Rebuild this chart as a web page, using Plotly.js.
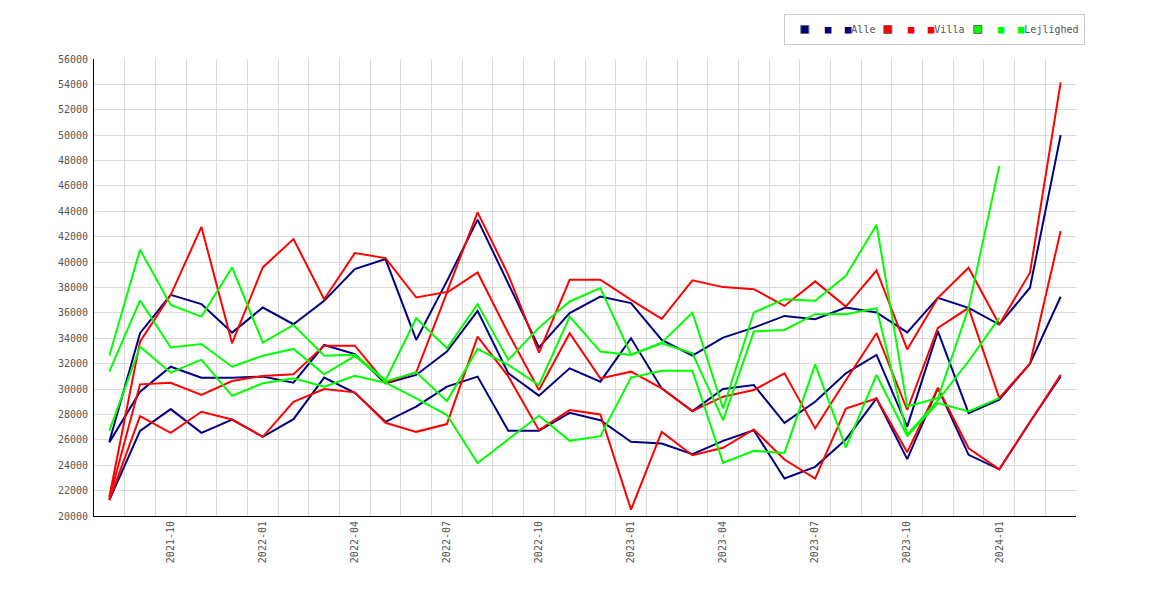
<!DOCTYPE html>
<html>
<head>
<meta charset="utf-8">
<script src="https://cdn.plot.ly/plotly-3.0.1.min.js"></script>
<style>
  html, body { margin: 0; padding: 0; background: #fff; }
  #chart { width: 1170px; height: 600px; }
</style>
</head>
<body>
<div id="chart"></div>
<script>
// Monthly price series 2021-08 .. 2024-03, three bands per property type.
const months = [
  '2021-08', '2021-09', '2021-10', '2021-11', '2021-12', '2022-01', '2022-02', '2022-03',
  '2022-04', '2022-05', '2022-06', '2022-07', '2022-08', '2022-09', '2022-10', '2022-11',
  '2022-12', '2023-01', '2023-02', '2023-03', '2023-04', '2023-05', '2023-06', '2023-07',
  '2023-08', '2023-09', '2023-10', '2023-11', '2023-12', '2024-01', '2024-02', '2024-03'
];
const tickMonths = ['2021-10', '2022-01', '2022-04', '2022-07', '2022-10',
  '2023-01', '2023-04', '2023-07', '2023-10', '2024-01'];

const alleLow  = [21250, 26710, 28420, 26550, 27600, 26240, 27630, 30900, 29710, 27420, 28610, 30190, 30980, 26710, 26710, 28130,
                  27550, 25840, 25710, 24870, 25920, 26760, 22950, 23870, 26030, 29260, 24480, 30080, 24820, 23680, 27400, 31000];
const alleMid  = [25800, 29790, 31760, 30900, 30900, 30980, 30500, 33470, 32760, 30450, 31110, 32950, 36160, 31240, 29480, 31630,
                  30580, 34000, 30050, 28260, 30000, 30320, 27340, 29000, 31240, 32690, 27040, 34550, 28110, 29160, 32000, 37270];
const alleHigh = [25850, 34400, 37420, 36690, 34450, 36420, 35110, 36950, 39450, 40240, 33870, 38500, 43350, 38300, 33270, 35980,
                  37290, 36770, 33870, 32630, 34050, 34840, 35760, 35500, 36420, 36030, 34460, 37190, 36400, 35080, 37980, 50000];

const villaLow  = [21250, 27870, 26550, 28210, 27600, 26240, 29000, 30000, 29740, 27340, 26630, 27240, 34130, 31000, 26760, 28340,
                   28000, 20500, 26630, 24790, 25370, 26820, 24450, 22950, 28470, 29260, 25030, 30080, 25340, 23680, 27400, 31130];
const villaMid  = [21350, 30370, 30500, 29530, 30630, 31030, 31160, 33420, 33420, 30500, 31320, 37600, 39180, 34400, 29920, 34400,
                   30840, 31370, 30050, 28260, 29400, 29920, 31240, 26900, 30700, 34400, 28350, 34820, 36400, 29290, 32000, 42450];
const villaHigh = [21500, 33740, 37420, 42770, 33610, 39580, 41820, 37080, 40710, 40320, 37210, 37650, 43920, 39000, 32870, 38610,
                   38610, 37030, 35530, 38560, 38030, 37870, 36550, 38480, 36500, 39340, 33120, 37190, 39560, 35080, 39160, 54160];

// Lejlighed stops at 2024-01
const lejLow  = [26710, 33340, 31290, 32320, 29470, 30450, 30840, 30190, 31050, 30500, 29260, 27950, 24180, 26030, 27900, 25920,
                 26290, 30900, 31450, 31450, 24180, 25130, 24970, 31950, 25400, 31110, 26300, 28900, 28240, 29290];
const lejMid  = [31370, 36980, 33270, 33550, 31760, 32630, 33160, 31160, 32600, 30600, 31320, 29050, 33160, 31900, 30320, 35710,
                 32950, 32690, 33600, 32820, 27550, 34530, 34660, 35900, 35900, 36370, 26400, 29100, 32190, 35610];
const lejHigh = [32630, 40980, 36630, 35710, 39580, 33660, 35050, 32630, 32700, 30700, 35580, 33210, 36690, 32300, 34840, 36900,
                 37950, 32700, 33650, 36030, 28470, 36030, 37080, 36950, 38920, 42950, 28630, 29290, 36400, 47580];

// legendWidth only squeezes the gap after the short names, as in the original
const groups = [
  { name: 'Alle', color: '#000080', series: [alleLow, alleMid, alleHigh], legendWidth: 38 },
  { name: 'Villa', color: '#ff0000', series: [villaLow, villaMid, villaHigh], legendWidth: 45 },
  { name: 'Lejlighed', color: '#00ff00', series: [lejLow, lejMid, lejHigh], legendWidth: null }
];

const FONT = 'DejaVu Sans Mono, monospace';
const xIndex = months.map(function (m, i) { return i; });

const traces = [];
groups.forEach(function (g) {
  g.series.forEach(function (vals) {
    traces.push({
      x: xIndex.slice(0, vals.length),
      y: vals,
      type: 'scatter',
      mode: 'lines',
      line: { color: g.color, width: 2 },
      showlegend: false,
      hoverinfo: 'x+y'
    });
  });
});

// legend entries: marker square + two more squares in the text, like the original
groups.forEach(function (g) {
  const sq = '<span style="font-size:11px;color:' + g.color + '">\u25A0\u00a0\u00a0\u25A0</span>';
  const entry = {
    x: [null],
    y: [null],
    type: 'scatter',
    mode: 'markers',
    name: sq + g.name,
    marker: { symbol: 'square', size: 8, color: g.color, line: { color: '#666', width: 1 } },
    showlegend: true
  };
  if (g.legendWidth) entry.legendwidth = g.legendWidth;
  traces.push(entry);
});

const layout = {
  width: 1170,
  height: 600,
  margin: { l: 94, r: 94, t: 59, b: 84, pad: 0 },
  paper_bgcolor: '#fff',
  plot_bgcolor: '#fff',
  font: { family: FONT, size: 10, color: '#555' },
  showlegend: true,
  legend: {
    orientation: 'h',
    x: 1.009,
    xanchor: 'right',
    y: 1.0985,
    yanchor: 'top',
    bgcolor: '#fff',
    bordercolor: '#ccc',
    borderwidth: 1,
    itemwidth: 30,
    font: { family: FONT, size: 10, color: '#555' }
  },
  xaxis: {
    range: [-0.5, months.length - 0.5],
    tickmode: 'array',
    tickvals: tickMonths.map(function (m) { return months.indexOf(m); }),
    ticktext: tickMonths,
    tickangle: -90,
    ticks: '',
    showgrid: false,
    zeroline: false,
    showline: true,
    linecolor: '#000',
    linewidth: 1,
    tickfont: { family: FONT, size: 10, color: '#555' },
    minor: { tickmode: 'linear', tick0: 0.5, dtick: 1, showgrid: true, gridcolor: '#dadada', gridwidth: 1 }
  },
  yaxis: {
    range: [20000, 56000],
    dtick: 2000,
    tick0: 20000,
    ticks: '',
    ticklabelstandoff: 3,
    showgrid: true,
    gridcolor: '#dadada',
    zeroline: false,
    showline: true,
    linecolor: '#000',
    linewidth: 1,
    tickformat: 'd',
    tickfont: { family: FONT, size: 10, color: '#555' }
  }
};

Plotly.newPlot('chart', traces, layout, { displayModeBar: false, staticPlot: true });
</script>
</body>
</html>
